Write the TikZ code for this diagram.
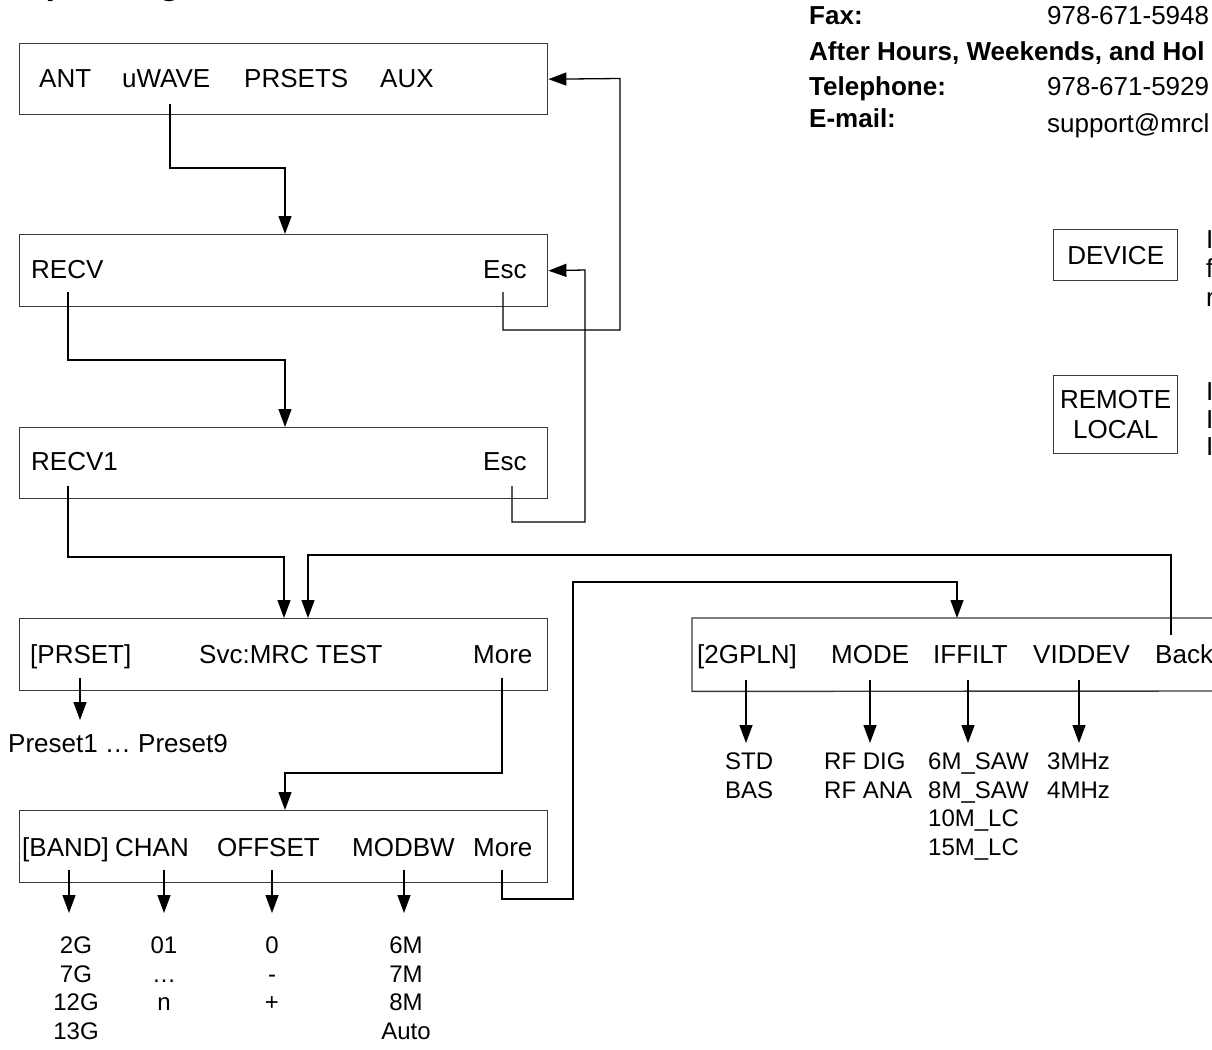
\documentclass[tikz,border=0pt]{standalone}
\usepackage{fontspec}
\setmainfont{Liberation Sans}
\usetikzlibrary{arrows.meta}
\definecolor{boxgray}{HTML}{3A3A3A}
\begin{document}
\begin{tikzpicture}[x=1pt,y=-1pt,
  box/.style={draw=boxgray, line width=1.4pt, minimum width=528pt, anchor=north west, inner sep=0pt},
  rbox/.style={draw=boxgray, line width=1.4pt, minimum width=124pt, anchor=north west, inner sep=0pt, align=center, font=\fontsize{26}{30}\selectfont},
  lbl/.style={font=\fontsize{26}{30}\selectfont, inner sep=0pt, anchor=base west},
  hdr/.style={font=\fontsize{26}{30}\selectfont\bfseries, inner sep=0pt, anchor=base west},
  lstc/.style={font=\fontsize{24}{28.5}\selectfont, inner sep=0pt, anchor=north, align=center},
  lstl/.style={font=\fontsize{24}{28.5}\selectfont, inner sep=0pt, anchor=north west, align=left},
  conn/.style={line width=1.3pt, black},
  arr/.style={conn, -{Triangle[length=18pt,width=13pt]}},
  boxline/.style={draw=boxgray, line width=1.4pt}
]
\path[fill=white] (0,0) rectangle (1212,1049);
\useasboundingbox (0,0) rectangle (1212,1049);

% cut-off title
\node[font=\fontsize{34}{40}\selectfont\bfseries, inner sep=0pt, anchor=base west] (title) at (19,-5) {Operating};

% header contact info
\node[hdr] (fax) at (809,25) {Fax:};
\node[lbl] (faxv) at (1047,25) {978-671-5948};
\node[hdr] (after) at (809,60) {After Hours, Weekends, and Hol};
\node[hdr] (tel) at (809,95) {Telephone:};
\node[lbl] (telv) at (1047,95) {978-671-5929};
\node[hdr] (email) at (809,127) {E-mail:};
\node[lbl] (emailv) at (1047,132) {support@mrcl};

% right legend boxes
\node[rbox, minimum height=51pt] (dev) at (1053,229) {DEVICE};
\node[rbox, minimum height=78pt] (remloc) at (1053,375) {REMOTE\\LOCAL};
\node[lbl] (fr1) at (1206,248) {I};
\node[lbl] (fr2) at (1206,277) {f};
\node[lbl] (fr3) at (1206,306) {r};
\node[lbl] (fr4) at (1206,400) {I};
\node[lbl] (fr5) at (1206,428) {I};
\node[lbl] (fr6) at (1206,455) {I};

% menu boxes
\node[box, minimum height=71pt] (b1) at (19,43) {};
\node[box, minimum height=72pt] (b2) at (19,234) {};
\node[box, minimum height=71pt] (b3) at (19,427) {};
\node[box, minimum height=72pt] (b4) at (19,618) {};
\node[box, minimum height=72pt] (b5) at (19,810) {};
\node[anchor=north west, inner sep=0pt, minimum width=520pt, minimum height=73pt] (b6) at (692,618) {};
\draw[boxline] (1212,618) -- (b6.north west) -- (b6.south west) -- (1212,691);

% box texts
\node[lbl] (t_ant) at (39,87) {ANT};
\node[lbl] (t_uwave) at (122,87) {uWAVE};
\node[lbl] (t_prsets) at (244,87) {PRSETS};
\node[lbl] (t_aux) at (380,87) {AUX};

\node[lbl] (t_recv) at (31,278) {RECV};
\node[lbl] (t_esc2) at (483,278) {Esc};

\node[lbl] (t_recv1) at (31,470) {RECV1};
\node[lbl] (t_esc3) at (483,470) {Esc};

\node[lbl] (t_prset) at (30,663) {[PRSET]};
\node[lbl] (t_svc) at (199,663) {Svc:MRC TEST};
\node[lbl] (t_more4) at (473,663) {More};

\node[lbl] (t_band) at (22,856) {[BAND]};
\node[lbl] (t_chan) at (115,856) {CHAN};
\node[lbl] (t_offset) at (217,856) {OFFSET};
\node[lbl] (t_modbw) at (352,856) {MODBW};
\node[lbl] (t_more5) at (473,856) {More};

\node[lbl] (t_2gpln) at (697,663) {[2GPLN]};
\node[lbl] (t_mode) at (831,663) {MODE};
\node[lbl] (t_iffilt) at (933,663) {IFFILT};
\node[lbl] (t_viddev) at (1033,663) {VIDDEV};
\node[lbl] (t_back) at (1155,663) {Back};

% value lists
\node[lbl] (t_preset) at (8,752) {Preset1 … Preset9};
\node[lstc] (l_band) at (76,937) {2G\\7G\\12G\\13G};
\node[lstc] (l_chan) at (164,937) {01\\…\\n};
\node[lstc] (l_off) at (272,937) {0\\-\\+};
\node[lstc] (l_modbw) at (406,937) {6M\\7M\\8M\\Auto};

\node[lstl] (l_2g) at (725,753) {STD\\BAS};
\node[lstl] (l_mode) at (824,753) {RF DIG\\RF ANA};
\node[lstl] (l_if) at (928,753) {6M\_SAW\\8M\_SAW\\10M\_LC\\15M\_LC};
\node[lstl] (l_vid) at (1047,753) {3MHz\\4MHz};

% connectors
\coordinate (s_uwave) at (170,104);
\coordinate (e_b2) at (285,234);
\draw[arr] (s_uwave) -- (170,168) -- (285,168) -- (e_b2);

\coordinate (s_esc2) at (503,292);
\draw[arr] (s_esc2) -- (503,330) -- (620,330) -- (620,78.5) -- (b1.east);

\coordinate (s_recv) at (68,292);
\coordinate (e_b3) at (285,427);
\draw[arr] (s_recv) -- (68,360) -- (285,360) -- (e_b3);

\coordinate (s_esc3) at (512,486);
\draw[arr] (s_esc3) -- (512,522) -- (585,522) -- (585,270) -- (b2.east);

\coordinate (s_recv1) at (68,486);
\coordinate (e_b4a) at (284,618);
\draw[arr] (s_recv1) -- (68,557) -- (284,557) -- (e_b4a);

\coordinate (s_back) at (1171,635);
\coordinate (e_b4b) at (308,618);
\draw[arr] (s_back) -- (1171,555) -- (308,555) -- (e_b4b);

\coordinate (s_prset) at (80,678);
\coordinate (e_preset) at (80,720);
\draw[arr] (s_prset) -- (e_preset);

\coordinate (s_more4) at (502,678);
\coordinate (e_b5) at (285,810);
\draw[arr] (s_more4) -- (502,773) -- (285,773) -- (e_b5);

\coordinate (s_more5) at (502,870);
\coordinate (e_b6) at (957,618);
\draw[arr] (s_more5) -- (502,899) -- (573,899) -- (573,582) -- (957,582) -- (e_b6);

\foreach \xx/\nm in {69/a,164/b,272/c,404/d}{
  \coordinate (sb\nm) at (\xx,870);
  \coordinate (eb\nm) at (\xx,913);
  \draw[arr] (sb\nm) -- (eb\nm);
}
\foreach \xx/\nm in {746/a,870/b,968/c,1079/d}{
  \coordinate (sg\nm) at (\xx,680);
  \coordinate (eg\nm) at (\xx,743);
  \draw[arr] (sg\nm) -- (eg\nm);
}
\end{tikzpicture}
\end{document}
